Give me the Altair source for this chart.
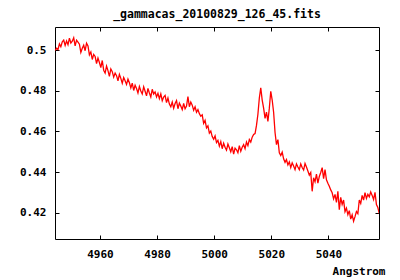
import altair as alt
import pandas as pd

title_text = "_gammacas_20100829_126_45.fits"
x_title = "Angstrom"
x_ticks = [4960, 4980, 5000, 5020, 5040]
y_ticks = [0.42, 0.44, 0.46, 0.48, 0.5]

wavelength = [
    4944.3, 4944.8, 4945.3, 4945.8, 4946.3, 4946.8, 4947.3, 4947.8, 4948.3, 4948.8,
    4949.3, 4949.8, 4950.3, 4950.8, 4951.3, 4951.8, 4952.3, 4952.8, 4953.3, 4953.8,
    4954.3, 4954.8, 4955.3, 4955.8, 4956.3, 4956.8, 4957.3, 4957.8, 4958.3, 4958.8,
    4959.3, 4959.8, 4960.3, 4960.8, 4961.3, 4961.8, 4962.3, 4962.8, 4963.3, 4963.8,
    4964.3, 4964.8, 4965.3, 4965.8, 4966.3, 4966.8, 4967.3, 4967.8, 4968.3, 4968.8,
    4969.3, 4969.8, 4970.3, 4970.8, 4971.3, 4971.8, 4972.3, 4972.8, 4973.3, 4973.8,
    4974.3, 4974.8, 4975.3, 4975.8, 4976.3, 4976.8, 4977.3, 4977.8, 4978.3, 4978.8,
    4979.3, 4979.8, 4980.3, 4980.8, 4981.3, 4981.8, 4982.3, 4982.8, 4983.3, 4983.8,
    4984.3, 4984.8, 4985.3, 4985.8, 4986.3, 4986.8, 4987.3, 4987.8, 4988.3, 4988.8,
    4989.3, 4989.8, 4990.3, 4990.8, 4991.3, 4991.8, 4992.3, 4992.8, 4993.3, 4993.8,
    4994.3, 4994.8, 4995.3, 4995.8, 4996.3, 4996.8, 4997.3, 4997.8, 4998.3, 4998.8,
    4999.3, 4999.8, 5000.3, 5000.8, 5001.3, 5001.8, 5002.3, 5002.8, 5003.3, 5003.8,
    5004.3, 5004.8, 5005.3, 5005.8, 5006.3, 5006.8, 5007.3, 5007.8, 5008.3, 5008.8,
    5009.3, 5009.8, 5010.3, 5010.8, 5011.3, 5011.8, 5012.3, 5012.8, 5013.3, 5013.8,
    5014.3, 5014.8, 5015.3, 5015.8, 5016.3, 5016.8, 5017.3, 5017.8, 5018.3, 5018.8,
    5019.3, 5019.8, 5020.3, 5020.8, 5021.3, 5021.8, 5022.3, 5022.8, 5023.3, 5023.8,
    5024.3, 5024.8, 5025.3, 5025.8, 5026.3, 5026.8, 5027.3, 5027.8, 5028.3, 5028.8,
    5029.3, 5029.8, 5030.3, 5030.8, 5031.3, 5031.8, 5032.3, 5032.8, 5033.3, 5033.8,
    5034.3, 5034.8, 5035.3, 5035.8, 5036.3, 5036.8, 5037.3, 5037.8, 5038.3, 5038.8,
    5039.3, 5039.8, 5040.3, 5040.8, 5041.3, 5041.8, 5042.3, 5042.8, 5043.3, 5043.8,
    5044.3, 5044.8, 5045.3, 5045.8, 5046.3, 5046.8, 5047.3, 5047.8, 5048.3, 5048.8,
    5049.3, 5049.8, 5050.3, 5050.8, 5051.3, 5051.8, 5052.3, 5052.8, 5053.3, 5053.8,
    5054.3, 5054.8, 5055.3, 5055.8, 5056.3, 5056.8, 5057.3, 5057.8,
]

flux = [
    0.5000, 0.5010, 0.5004, 0.5032, 0.5018, 0.5042, 0.5050, 0.5024, 0.5046, 0.5028,
    0.5060, 0.5036, 0.5045, 0.5062, 0.5022, 0.5050, 0.5040, 0.5030, 0.4990, 0.5010,
    0.5025, 0.4998, 0.5035, 0.5022, 0.4978, 0.4992, 0.4955, 0.4980, 0.4970, 0.4935,
    0.4962, 0.4940, 0.4915, 0.4950, 0.4902, 0.4888, 0.4922, 0.4900, 0.4872, 0.4908,
    0.4895, 0.4868, 0.4888, 0.4875, 0.4850, 0.4882, 0.4862, 0.4838, 0.4866, 0.4850,
    0.4832, 0.4858, 0.4840, 0.4815, 0.4838, 0.4802, 0.4828, 0.4812, 0.4790, 0.4822,
    0.4800, 0.4785, 0.4820, 0.4798, 0.4776, 0.4812, 0.4790, 0.4770, 0.4808, 0.4785,
    0.4795, 0.4770, 0.4788, 0.4762, 0.4785, 0.4752, 0.4770, 0.4778, 0.4742, 0.4765,
    0.4735, 0.4722, 0.4745, 0.4715, 0.4738, 0.4752, 0.4712, 0.4740, 0.4725, 0.4708,
    0.4738, 0.4712, 0.4725, 0.4772, 0.4722, 0.4745, 0.4730, 0.4705, 0.4722, 0.4695,
    0.4708, 0.4688, 0.4675, 0.4682, 0.4640, 0.4655, 0.4618, 0.4628, 0.4592, 0.4602,
    0.4575, 0.4562, 0.4578, 0.4545, 0.4556, 0.4528, 0.4550, 0.4515, 0.4542, 0.4522,
    0.4508, 0.4538, 0.4520, 0.4500, 0.4525, 0.4488, 0.4518, 0.4510, 0.4495, 0.4530,
    0.4502, 0.4522, 0.4535, 0.4515, 0.4548, 0.4530, 0.4560, 0.4548, 0.4572, 0.4585,
    0.4590, 0.4630, 0.4685, 0.4765, 0.4815, 0.4755, 0.4715, 0.4665, 0.4695, 0.4650,
    0.4715, 0.4798, 0.4755, 0.4695, 0.4595, 0.4535, 0.4560, 0.4495, 0.4482, 0.4498,
    0.4465, 0.4448, 0.4462, 0.4435, 0.4450, 0.4422, 0.4445, 0.4430, 0.4412, 0.4440,
    0.4425, 0.4412, 0.4440, 0.4422, 0.4410, 0.4442, 0.4425, 0.4405, 0.4385, 0.4398,
    0.4305, 0.4372, 0.4352, 0.4390, 0.4345, 0.4378, 0.4398, 0.4422, 0.4368, 0.4412,
    0.4362, 0.4345, 0.4330, 0.4312, 0.4298, 0.4268, 0.4290, 0.4250, 0.4305, 0.4215,
    0.4275, 0.4240, 0.4262, 0.4205, 0.4222, 0.4190, 0.4210, 0.4168, 0.4190, 0.4158,
    0.4180, 0.4205, 0.4195, 0.4262, 0.4245, 0.4285, 0.4262, 0.4298, 0.4270, 0.4290,
    0.4278, 0.4302, 0.4285, 0.4265, 0.4300, 0.4240, 0.4225, 0.4195,
]

df = pd.DataFrame({"wavelength": wavelength, "flux": flux})

X_DOMAIN = [4944.25, 5057.7]
Y_DOMAIN = [0.407, 0.5115]
W, H = 324, 212
FONT = "DejaVu Sans Mono"

xs = alt.Scale(domain=X_DOMAIN, nice=False, zero=False)
ys = alt.Scale(domain=Y_DOMAIN, nice=False, zero=False)

base = alt.Chart(df)

line = base.mark_line(color="#ff0000", strokeWidth=1.3, clip=True).encode(
    x=alt.X("wavelength:Q", scale=xs,
            axis=alt.Axis(orient="bottom", values=x_ticks, format="d", tickSize=0,
                          labelPadding=9, domain=False, grid=False, title=x_title,
                          titleX=330, titleY=32, titleAlign="right",
                          titleBaseline="middle")),
    y=alt.Y("flux:Q", scale=ys,
            axis=alt.Axis(orient="left", values=y_ticks, format="~g", tickSize=0,
                          labelPadding=9, domain=False, grid=False, title=None)),
)

ticks_a = base.mark_line(opacity=0).encode(
    x=alt.X("wavelength:Q", scale=xs,
            axis=alt.Axis(orient="top", offset=-H, values=x_ticks, labels=False,
                          tickSize=4, domain=False, grid=False, title=None)),
    y=alt.Y("flux:Q", scale=ys,
            axis=alt.Axis(orient="right", offset=-W, values=y_ticks, labels=False,
                          tickSize=4, domain=False, grid=False, title=None)),
)

ticks_b = base.mark_line(opacity=0).encode(
    x=alt.X("wavelength:Q", scale=xs,
            axis=alt.Axis(orient="bottom", offset=-H, values=x_ticks, labels=False,
                          tickSize=4, domain=False, grid=False, title=None)),
    y=alt.Y("flux:Q", scale=ys,
            axis=alt.Axis(orient="left", offset=-W, values=y_ticks, labels=False,
                          tickSize=4, domain=False, grid=False, title=None)),
)

chart = alt.layer(line, ticks_a, ticks_b).resolve_scale(
    x="independent", y="independent"
).properties(
    width=W, height=H,
    title=alt.TitleParams(title_text, font=FONT, fontSize=11.5, fontWeight="bold",
                          offset=6, anchor="middle", color="black"),
    autosize=alt.AutoSizeParams(type="none"),
    padding={"left": 47, "top": 19, "right": 13, "bottom": 40},
).configure_view(
    stroke="black", strokeWidth=1
).configure_axis(
    labelFont=FONT, labelFontSize=11, labelFontWeight="bold", labelColor="black",
    titleFont=FONT, titleFontSize=11, titleFontWeight="bold", titleColor="black",
    tickColor="black", tickWidth=1,
)

chart.save("out.html", embed_options={"renderer": "svg", "actions": False})
